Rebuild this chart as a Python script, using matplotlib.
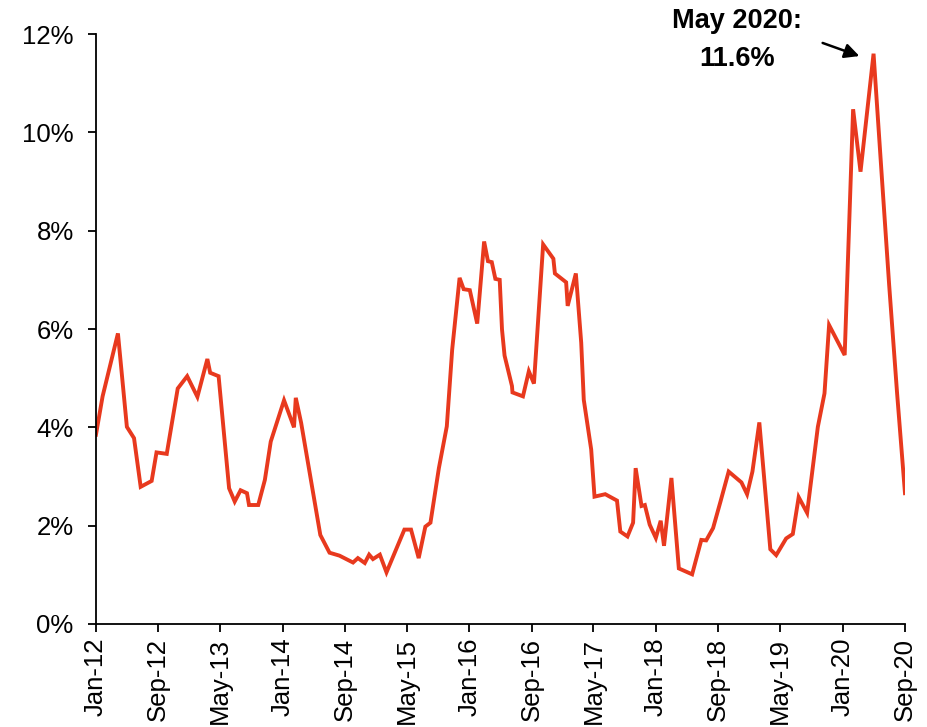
import pandas as pd
import matplotlib.pyplot as plt
import matplotlib.dates as mdates
from matplotlib.ticker import FuncFormatter

plt.rcParams["font.family"] = ["Liberation Sans", "DejaVu Sans"]

# data (irregular release dates, % values)
dates = [
    "2012-01-01", "2012-01-27", "2012-03-27", "2012-05-01", "2012-05-29", "2012-06-24",
    "2012-08-06", "2012-08-25", "2012-10-04", "2012-11-16", "2012-12-23", "2013-02-01",
    "2013-03-12", "2013-03-23", "2013-04-25", "2013-06-05", "2013-06-27", "2013-07-20",
    "2013-08-14", "2013-08-22", "2013-09-27", "2013-10-23", "2013-11-15", "2014-01-06",
    "2014-02-14", "2014-02-21", "2014-03-14", "2014-05-28", "2014-07-03", "2014-08-11",
    "2014-10-03", "2014-10-22", "2014-11-18", "2014-12-05", "2014-12-20", "2015-01-16",
    "2015-02-11", "2015-04-22", "2015-05-18", "2015-06-17", "2015-07-13", "2015-08-02",
    "2015-09-04", "2015-10-05", "2015-10-26", "2015-11-24", "2015-12-10", "2016-01-03",
    "2016-02-01", "2016-02-28", "2016-03-14", "2016-03-29", "2016-04-12", "2016-04-29",
    "2016-05-08", "2016-05-18", "2016-06-16", "2016-06-18", "2016-07-29", "2016-08-21",
    "2016-09-10", "2016-10-16", "2016-11-25", "2016-12-01", "2017-01-14", "2017-01-20",
    "2017-02-21", "2017-03-14", "2017-03-24", "2017-04-22", "2017-05-05", "2017-06-16",
    "2017-08-01", "2017-08-14", "2017-09-11", "2017-10-03", "2017-10-13", "2017-11-05",
    "2017-11-18", "2017-12-07", "2017-12-31", "2018-01-19", "2018-02-01", "2018-03-02",
    "2018-03-31", "2018-05-22", "2018-06-27", "2018-07-16", "2018-08-12", "2018-09-10",
    "2018-10-12", "2018-12-01", "2018-12-23", "2019-01-13", "2019-02-09", "2019-03-24",
    "2019-04-16", "2019-05-25", "2019-06-20", "2019-07-13", "2019-08-15", "2019-09-26",
    "2019-10-22", "2019-11-09", "2020-01-09", "2020-02-11", "2020-03-11", "2020-05-01",
    "2020-06-01", "2020-07-01", "2020-08-01", "2020-09-01",
]
values = [
    3.85, 4.63, 5.91, 4.01, 3.78, 2.79,
    2.91, 3.49, 3.46, 4.79, 5.04, 4.62,
    5.39, 5.11, 5.04, 2.76, 2.49, 2.72,
    2.66, 2.42, 2.42, 2.93, 3.71, 4.55,
    4.00, 4.60, 4.09, 1.81, 1.45, 1.39,
    1.25, 1.34, 1.24, 1.41, 1.32, 1.41,
    1.05, 1.92, 1.92, 1.34, 1.98, 2.06,
    3.17, 4.02, 5.58, 7.04, 6.81, 6.79,
    6.11, 7.78, 7.38, 7.36, 7.02, 7.00,
    5.99, 5.46, 4.84, 4.71, 4.63, 5.14,
    4.89, 7.72, 7.43, 7.13, 6.95, 6.47,
    7.13, 5.72, 4.56, 3.55, 2.59, 2.64,
    2.51, 1.88, 1.78, 2.06, 3.17, 2.40,
    2.42, 2.02, 1.75, 2.10, 1.59, 2.97,
    1.13, 1.01, 1.71, 1.70, 1.95, 2.49,
    3.10, 2.88, 2.64, 3.10, 4.10, 1.52,
    1.40, 1.74, 1.83, 2.58, 2.26, 4.01,
    4.69, 6.08, 5.47, 10.47, 9.20, 11.6,
    9.2, 6.9, 4.7, 2.66,
]

dates = pd.to_datetime(dates)

peak_label = "May 2020:\n11.6%"

fig = plt.figure(figsize=(9.28, 7.27), dpi=100)
ax = fig.add_axes([0.1034, 0.1417, 0.8718, 0.8115])

ax.plot(dates, values, color="#E8391E", linewidth=2.8, solid_joinstyle="miter")

ax.set_xlim(pd.Timestamp("2012-01-01"), pd.Timestamp("2020-09-01"))
ax.set_ylim(0, 12)
ax.set_yticks(range(0, 13, 2))
ax.yaxis.set_major_formatter(FuncFormatter(lambda v, p: "{:.0f}%".format(v)))

ax.set_xticks(pd.date_range("2012-01-01", "2020-09-01", freq="8MS"))
ax.xaxis.set_major_formatter(mdates.DateFormatter("%b-%y"))

for s in ["top", "right"]:
    ax.spines[s].set_visible(False)
for s in ["left", "bottom"]:
    ax.spines[s].set_linewidth(1.3)

ax.tick_params(axis="both", which="major", labelsize=18.5, length=6, width=1.3, direction="out")
ax.tick_params(axis="x", labelrotation=90, pad=4)
ax.tick_params(axis="y", pad=10)

# callout text + arrow to the May 2020 peak
fig.text(737, 727 - 40, peak_label, transform=None,
         ha="center", va="center", fontsize=19.5, fontweight="bold",
         linespacing=1.55)
ax.annotate("", xy=(862, 727 - 57), xycoords="figure pixels",
            xytext=(820, 727 - 42), textcoords="figure pixels",
            arrowprops=dict(arrowstyle="-|>", color="black", lw=1.8, mutation_scale=22))

fig.savefig("out.png", dpi=100)
